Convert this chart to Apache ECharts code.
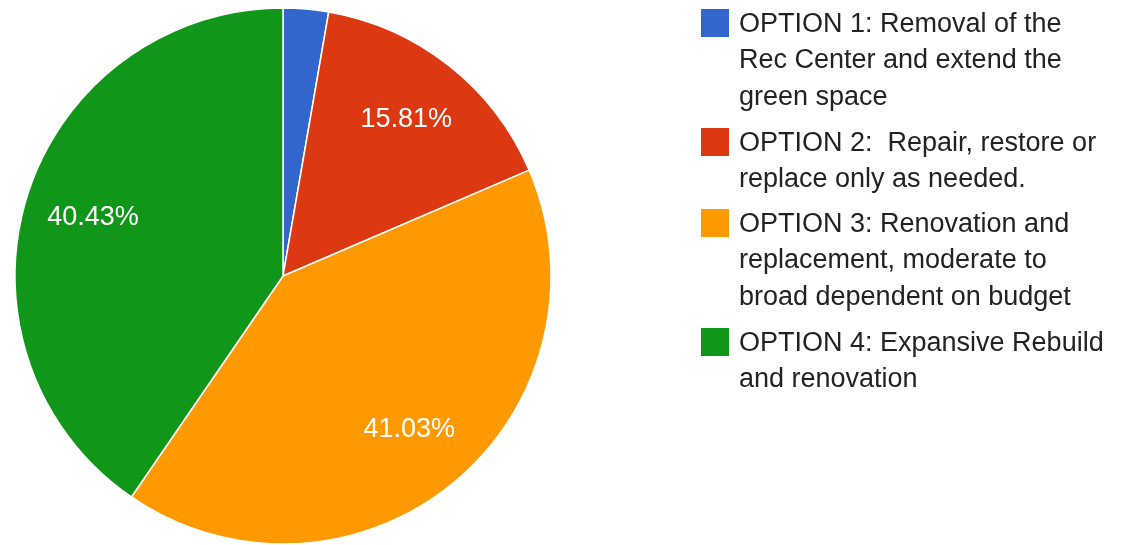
<!DOCTYPE html>
<html><head><meta charset="utf-8">
<script src="https://cdn.jsdelivr.net/npm/echarts@6/dist/echarts.min.js"></script>
<style>html,body{margin:0;padding:0;background:#fff}#c{width:1123px;height:545px}</style>
</head><body><div id="c"></div>
<script>
const categories = [
  "OPTION 1: Removal of the\nRec Center and extend the\ngreen space",
  "OPTION 2:  Repair, restore or\nreplace only as needed.",
  "OPTION 3: Renovation and\nreplacement, moderate to\nbroad dependent on budget",
  "OPTION 4: Expansive Rebuild\nand renovation"
];
const values = [2.73, 15.81, 41.03, 40.43];
const colors = ["#3366cc", "#dc3912", "#ff9900", "#109618"];

const FONT = "Arial, 'Liberation Sans', sans-serif";
const LH = 36.5;
const legendTops = [6, 125, 206, 325];
const data = categories.map((n, i) => ({ name: n, value: values[i], itemStyle: { color: colors[i] } }));

const legends = categories.map((n, i) => {
  const lines = n.split("\n").length;
  const H = lines * LH;
  return {
    orient: 'vertical', left: 701, top: legendTops[i], padding: 0,
    itemWidth: 28, itemHeight: H,
    icon: 'path://M0,0h0.01v0.01h-0.01z M0,3h28v28h-28z M0,' + (H - 0.01) + 'h0.01v0.01h-0.01z',
    itemStyle: { borderWidth: 0 },
    selectedMode: false,
    data: [n],
    textStyle: { fontFamily: FONT, fontSize: 27, color: '#222', lineHeight: LH, padding: [0, 0, 0, 5] }
  };
});

const chart = echarts.init(document.getElementById('c'), null, { renderer: 'canvas' });
chart.setOption({
  animation: false,
  legend: legends,
  series: [{
    type: 'pie', center: [283, 276], radius: [0, 268], startAngle: 90, clockwise: true,
    data: data, label: { show: false }, labelLine: { show: false },
    itemStyle: { borderColor: '#fff', borderWidth: 1.5 }, emphasis: { disabled: true }
  }, {
    type: 'pie', center: [283, 276], radius: [124, 268], startAngle: 90, clockwise: true, silent: true,
    data: values.map((v, i) => ({ name: categories[i], value: v })),
    itemStyle: { color: 'rgba(0,0,0,0)', borderWidth: 0 },
    minShowLabelAngle: 15,
    label: { show: true, position: 'inside', formatter: '{d}%', color: '#fff', fontSize: 27, fontFamily: FONT },
    labelLine: { show: false }, emphasis: { disabled: true }
  }]
});
</script></body></html>
